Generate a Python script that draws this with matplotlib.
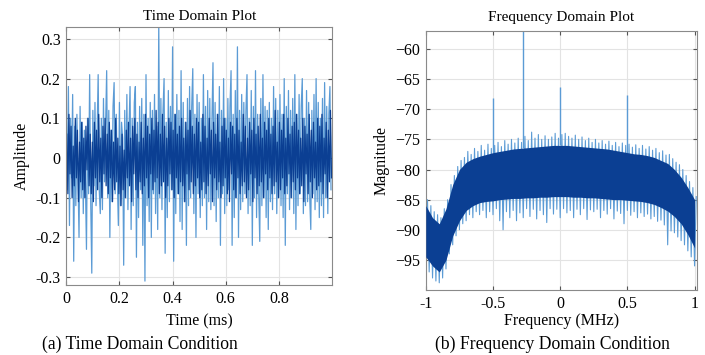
import numpy as np
import matplotlib
matplotlib.use("Agg")
from matplotlib import pyplot as plt

# time domain samples (ms, amplitude)
amp_light = [
    0.12, -0.08, 0.18, -0.17, 0.10, -0.05, 0.16, -0.26, 0.08, -0.12,
    0.11, -0.04, -0.20, 0.13, -0.10, 0.09, -0.14, 0.07, -0.06, -0.23,
    0.10, -0.09, 0.21, -0.11, -0.29, 0.12, -0.07, 0.14, -0.12, 0.06,
    0.21, -0.08, -0.14, 0.10, -0.13, 0.15, -0.06, 0.08, 0.22, -0.10,
    0.12, -0.20, 0.07, -0.11, 0.13, 0.19, -0.09, 0.11, -0.05, -0.17,
    0.14, -0.12, 0.09, 0.05, -0.27, 0.12, -0.10, 0.16, -0.13, 0.07,
    0.18, -0.18, 0.10, -0.12, 0.14, 0.18, -0.25, 0.09, -0.15, 0.13,
    -0.08, 0.15, -0.22, 0.11, -0.31, 0.21, -0.12, 0.10, -0.16, 0.14,
    -0.20, 0.12, -0.09, 0.16, -0.14, 0.08, -0.18, 0.34, -0.10, 0.15,
    -0.13, 0.12, 0.20, -0.24, 0.09, -0.15, 0.17, -0.11, 0.13, -0.08,
    0.28, -0.26, 0.11, -0.14, 0.16, -0.09, 0.12, -0.16, 0.22, -0.18,
    0.14, -0.11, 0.09, -0.22, 0.15, -0.12, 0.18, -0.10, 0.13, 0.225,
    -0.14, 0.11, -0.20, 0.16, -0.09, 0.14, -0.15, 0.10, -0.12, 0.21,
    -0.10, 0.13, -0.18, 0.17, -0.11, 0.15, -0.13, 0.09, 0.24, -0.12,
    0.14, -0.16, 0.11, -0.10, 0.18, -0.22, 0.12, -0.09, 0.20, -0.14,
    0.10, -0.12, 0.15, -0.08, 0.13, 0.22, -0.22, 0.11, -0.15, 0.17,
    -0.10, 0.28, -0.20, 0.12, -0.13, 0.16, -0.11, 0.14, -0.09, 0.12,
    0.21, -0.14, 0.10, -0.12, 0.17, -0.22, 0.13, -0.10, 0.22, -0.15,
    0.11, -0.09, -0.21, 0.15, -0.12, 0.21, -0.10, 0.13, -0.15, 0.12,
    -0.18, 0.14, -0.11, 0.10, -0.13, 0.18, -0.09, 0.15, -0.14, 0.12,
    -0.10, 0.16, -0.12, 0.11, -0.15, 0.20, -0.22, 0.13, -0.09, 0.17,
    -0.13, 0.12, -0.10, 0.15, -0.14, 0.21, -0.18, 0.11, -0.12, 0.16,
    -0.09, 0.13, 0.20, -0.14, 0.10, -0.12, 0.17, -0.11, 0.14, -0.10,
    -0.18, 0.12, -0.09, 0.16, -0.13, 0.20, -0.11, 0.14, -0.15, 0.10,
    -0.12, 0.15, -0.15, 0.19, -0.10, 0.13, -0.14, 0.11, 0.18, -0.08,
]
amp_dark = [
    0.06, -0.09, 0.11, -0.04, 0.08, -0.10, 0.03, -0.07, 0.10, -0.05,
    0.07, -0.11, 0.04, -0.06, 0.09, -0.08, 0.05, -0.10, 0.08, -0.03,
    0.10, -0.07, 0.06, -0.09, 0.04, -0.11, 0.09, -0.05, 0.07, -0.08,
    0.11, -0.06, 0.05, -0.10, 0.08, -0.04, 0.10, -0.07, 0.06, -0.09,
    0.09, -0.05, 0.07, -0.11, 0.04, -0.08, 0.10, -0.06, 0.05, -0.09,
    0.03, -0.12, 0.06, -0.08, 0.02, -0.10, 0.07, -0.05, 0.09, -0.07,
    0.05, -0.11, 0.08, -0.04, 0.10, -0.08, 0.06, -0.10, 0.04, -0.06,
    0.09, -0.09, 0.05, -0.07, 0.11, -0.05, 0.08, -0.10, 0.06, -0.04,
    0.10, -0.08, 0.07, -0.06, 0.12, -0.05, 0.09, -0.09, 0.06, -0.07,
    0.11, -0.06, 0.08, -0.10, 0.05, -0.07, 0.10, -0.04, 0.09, -0.08,
    0.07, -0.10, 0.11, -0.05, 0.06, -0.09, 0.08, -0.06, 0.10, -0.07,
    0.05, -0.11, 0.09, -0.04, 0.07, -0.08, 0.12, -0.06, 0.08, -0.09,
    0.06, -0.07, 0.10, -0.05, 0.09, -0.10, 0.04, -0.08, 0.11, -0.06,
    0.08, -0.09, 0.05, -0.07, 0.10, -0.04, 0.07, -0.11, 0.09, -0.05,
    0.06, -0.08, 0.11, -0.06, 0.04, -0.10, 0.08, -0.07, 0.10, -0.05,
    0.07, -0.09, 0.05, -0.11, 0.09, -0.04, 0.08, -0.08, 0.06, -0.10,
    0.10, -0.05, 0.07, -0.09, 0.04, -0.07, 0.11, -0.06, 0.08, -0.10,
    0.05, -0.08, 0.09, -0.04, 0.07, -0.11, 0.10, -0.05, 0.06, -0.09,
    0.08, -0.07, 0.11, -0.06, 0.05, -0.10, 0.09, -0.04, 0.07, -0.08,
    0.10, -0.05, 0.06, -0.09, 0.08, -0.07, 0.12, -0.06, 0.04, -0.10,
    0.09, -0.08, 0.07, -0.05, 0.11, -0.09, 0.05, -0.07, 0.10, -0.04,
    0.06, -0.10, 0.08, -0.06, 0.09, -0.08, 0.11, -0.05, 0.07, -0.09,
    0.05, -0.07, 0.10, -0.11, 0.08, -0.04, 0.06, -0.09, 0.11, -0.06,
    0.07, -0.10, 0.09, -0.05, 0.04, -0.08, 0.10, -0.07, 0.08, -0.06,
    0.11, -0.09, 0.05, -0.04, 0.09, -0.10, 0.07, -0.06, 0.12, -0.05,
]
t_ms = np.arange(len(amp_light)) / len(amp_light)

# frequency domain (MHz, dB): dense band edges, spiky fringe, tones
band_f = np.linspace(-1, 1, 41)
band_hi = [-86.0, -88.0, -89.0, -86.5, -82.5, -80.0, -78.8, -78.2, -77.8, -77.5,
           -77.2, -77.0, -76.8, -76.6, -76.5, -76.4, -76.3, -76.2, -76.1, -76.0,
           -76.0, -76.0, -76.1, -76.2, -76.3, -76.4, -76.5, -76.6, -76.8, -77.0,
           -77.2, -77.4, -77.5, -77.7, -78.0, -78.5, -79.0, -80.0, -81.3, -83.0,
           -85.0]
band_lo = [-94.5, -96.0, -97.0, -95.0, -91.0, -88.5, -86.8, -86.0, -85.5, -85.3,
           -85.2, -85.0, -84.9, -84.8, -84.8, -84.7, -84.7, -84.6, -84.6, -84.5,
           -84.5, -84.5, -84.6, -84.6, -84.7, -84.7, -84.8, -84.9, -85.0, -85.0,
           -85.1, -85.2, -85.3, -85.5, -85.8, -86.3, -86.9, -87.8, -89.0, -90.8,
           -93.0]
fringe_f = np.linspace(-1, 1, 81)
fringe_hi = [-85.0, -86.0, -87.0, -87.5, -88.0, -86.5, -85.0, -82.5, -81.0, -79.5,
             -78.5, -78.0, -77.0, -77.5, -76.5, -77.0, -76.0, -76.8, -75.8, -76.5,
             -76.0, -75.5, -76.2, -75.2, -75.8, -75.0, -75.6, -74.8, -75.5, -74.5,
             -75.2, -73.8, -74.8, -74.2, -75.0, -74.4, -75.0, -74.6, -74.0, -74.8,
             -74.2, -74.0, -74.5, -74.8, -74.3, -75.0, -74.6, -75.2, -74.8, -75.5,
             -75.0, -75.6, -75.2, -75.8, -75.3, -76.0, -75.5, -76.2, -75.6, -76.0,
             -75.8, -76.3, -75.9, -76.5, -76.0, -76.6, -76.2, -76.8, -76.5, -77.2,
             -76.9, -77.6, -77.5, -78.2, -78.8, -79.2, -80.0, -81.0, -82.0, -83.0,
             -84.5]
fringe_lo = [-96.0, -97.0, -98.0, -98.5, -98.8, -98.0, -96.5, -94.0, -92.5, -91.0,
             -90.0, -89.0, -88.5, -87.5, -88.0, -87.0, -87.5, -86.8, -88.0, -87.0,
             -87.5, -86.5, -88.5, -90.0, -87.0, -88.0, -86.8, -88.5, -87.2, -88.0,
             -86.5, -87.8, -86.6, -88.2, -86.8, -87.5, -88.8, -86.5, -87.4, -86.6,
             -88.0, -86.5, -87.2, -86.8, -88.0, -86.6, -87.5, -86.5, -88.3, -86.7,
             -87.0, -86.6, -88.0, -86.8, -87.4, -86.5, -88.2, -86.9, -87.3, -89.0,
             -86.8, -87.6, -87.0, -88.0, -87.2, -87.8, -87.4, -88.2, -87.8, -88.6,
             -88.4, -89.2, -92.5, -90.2, -90.5, -91.2, -91.8, -92.5, -93.5, -94.5,
             -96.0]
tone_f = [-0.5, -0.28, 0.0, 0.5]
tone_db = [-68.1, -56.5, -66.3, -67.7]

light = '#5b9bd5'
dark = '#0b3f93'

plt.rcParams['font.family'] = ['Liberation Serif', 'DejaVu Serif']
plt.rcParams['font.size'] = 11

fig = plt.figure(figsize=(7.05, 3.55), dpi=100)
ax1 = fig.add_axes([0.094, 0.197, 0.377, 0.727])
ax2 = fig.add_axes([0.604, 0.183, 0.385, 0.730])

for ax in (ax1, ax2):
    ax.grid(True, color='#e3e3e3', linewidth=0.8)
    ax.set_axisbelow(True)
    ax.tick_params(direction='in', top=True, right=True, length=3,
                   color='#555555', labelsize=11.5, pad=4)
    for s in ax.spines.values():
        s.set_color('#8a8a8a')
        s.set_linewidth(0.8)

# time domain
ax1.plot(t_ms, amp_light, color=light, linewidth=0.9)
ax1.plot(t_ms + 0.002, amp_dark, color=dark, linewidth=0.9)
ax1.set_xlim(0, 1)
ax1.set_ylim(-0.32, 0.33)
ax1.set_xticks([0, 0.2, 0.4, 0.6, 0.8])
ax1.set_xticklabels(['0', '0.2', '0.4', '0.6', '0.8'])
ax1.set_yticks([-0.3, -0.2, -0.1, 0, 0.1, 0.2, 0.3])
ax1.set_yticklabels(['-0.3', '-0.2', '-0.1', '0', '0.1', '0.2', '0.3'])
ax1.set_title('Time Domain Plot', fontsize=11, pad=5)
ax1.set_xlabel('Time (ms)', fontsize=11.5, labelpad=5)
ax1.set_ylabel('Amplitude', fontsize=11.5, labelpad=4)

# frequency domain
zig_x = np.ravel(np.column_stack([fringe_f, fringe_f + 0.0125]))
zig_y = np.ravel(np.column_stack([fringe_lo, fringe_hi]))
ax2.plot(zig_x, zig_y, color=light, linewidth=0.8, zorder=2)
tone_base = np.interp(tone_f, band_f, band_hi)
ax2.vlines(tone_f, tone_base, tone_db, color=light, linewidth=1.0, zorder=2)
ax2.fill_between(band_f, band_lo, band_hi, color=dark, linewidth=0, zorder=3)
ax2.set_xlim(-1.0, 1.02)
ax2.set_ylim(-100, -57)
ax2.set_xticks([-1, -0.5, 0, 0.5, 1])
ax2.set_xticklabels(['-1', '-0.5', '0', '0.5', '1'])
ax2.set_yticks([-95, -90, -85, -80, -75, -70, -65, -60])
ax2.set_title('Frequency Domain Plot', fontsize=11, pad=7)
ax2.set_xlabel('Frequency (MHz)', fontsize=11.5, labelpad=1)
ax2.set_ylabel('Magnitude', fontsize=11.5, labelpad=4)

fig.text(0.199, 0.018, '(a) Time Domain Condition', ha='center', fontsize=12.7)
fig.text(0.783, 0.018, '(b) Frequency Domain Condition', ha='center', fontsize=12.7)

fig.savefig('out.png', dpi=100)
